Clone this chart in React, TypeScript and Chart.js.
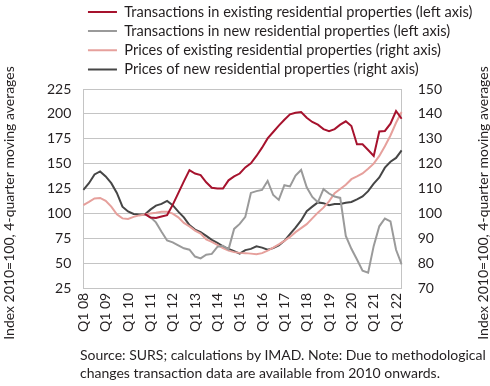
import React, { useEffect, useRef } from 'react';
import { Chart, registerables } from 'chart.js';

Chart.register(...registerables);

const quarters = [
  'Q1 08', 'Q2 08', 'Q3 08', 'Q4 08', 'Q1 09', 'Q2 09', 'Q3 09', 'Q4 09',
  'Q1 10', 'Q2 10', 'Q3 10', 'Q4 10', 'Q1 11', 'Q2 11', 'Q3 11', 'Q4 11',
  'Q1 12', 'Q2 12', 'Q3 12', 'Q4 12', 'Q1 13', 'Q2 13', 'Q3 13', 'Q4 13',
  'Q1 14', 'Q2 14', 'Q3 14', 'Q4 14', 'Q1 15', 'Q2 15', 'Q3 15', 'Q4 15',
  'Q1 16', 'Q2 16', 'Q3 16', 'Q4 16', 'Q1 17', 'Q2 17', 'Q3 17', 'Q4 17',
  'Q1 18', 'Q2 18', 'Q3 18', 'Q4 18', 'Q1 19', 'Q2 19', 'Q3 19', 'Q4 19',
  'Q1 20', 'Q2 20', 'Q3 20', 'Q4 20', 'Q1 21', 'Q2 21', 'Q3 21', 'Q4 21',
  'Q1 22', 'Q2 22',
];

// left axis
const transExisting = [
  null, null, null, null, null, null, null, null, null, null, null, 100,
  96.4, 95.9, 97.4, 98.8, 109, 120.8, 132.6, 143.8, 140.4, 138.9, 131.6, 126.2,
  125.4, 125.4, 133.6, 137.5, 140.4, 146.5, 150.7, 158, 166.3, 175.6, 182, 188.3,
  194.2, 199.6, 201.2, 202, 196.2, 192, 189.3, 184.9, 182.9, 184.9, 189.3, 192.7,
  188, 169.7, 169.7, 163.9, 158, 182.5, 183, 190.3, 203, 195.2,
];

const transNew = [
  null, null, null, null, null, null, null, null, null, null, null, 100,
  96.9, 91.5, 82.2, 73.4, 71.5, 68.5, 65.6, 64.2, 57.3, 55.5, 59.2, 60,
  67, 68, 64.5, 85, 90, 97, 121, 122.8, 124, 133, 118.9, 114,
  128.7, 127.5, 138.4, 144, 126.7, 117, 111.6, 124.8, 120.4, 117.4, 116, 78,
  65.1, 54.3, 43.1, 41.1, 68, 87.6, 95.4, 92.5, 64.1, 49.5,
];

// right axis
const pricesExisting = [
  103.5, 104.8, 106.2, 106.4, 105.2, 102.9, 99.8, 98.2, 98, 98.8, 99.4, 99.8,
  100.2, 100.5, 100.9, 100.9, 100.1, 98.6, 96.4, 95, 93.3, 92.1, 89.8, 88.8,
  87.6, 86.3, 85.3, 84.7, 84.4, 84.3, 84.1, 83.9, 84.3, 85.3, 86.5, 87.8,
  89.2, 90.8, 92.7, 94.3, 95.9, 98.2, 100.5, 102.5, 105, 108.3, 110, 111.7,
  113.9, 115, 116.2, 118.1, 120.1, 123.2, 127.1, 131.4, 136.5, 140.8,
];

const pricesNew = [
  109.6, 112.3, 115.8, 117, 115, 112.3, 108.4, 102.9, 101, 100, 99.8, 99.8,
  101.7, 103.3, 104, 105.2, 103.5, 100.9, 98.6, 95.5, 93.7, 92.7, 91.2, 89.6,
  88.4, 87, 86, 85.1, 84.1, 85.5, 86, 87, 86.5, 85.7, 86.3, 87.4,
  89.2, 91.9, 94.5, 97.4, 101.1, 102.9, 104.6, 104.3, 103.5, 104, 104, 104.5,
  104.8, 105.8, 107, 109.1, 112.1, 114.6, 118.5, 120.9, 122.4, 125.4,
];

const seriesNames = [
  'Transactions in existing residential properties (left axis)',
  'Transactions in new residential properties (left axis)',
  'Prices of existing residential properties (right axis)',
  'Prices of new residential properties (right axis)',
];

const axisTitle = 'Index 2010=100, 4-quarter moving averages';
const footLines = [
  'Source: SURS; calculations by IMAD. Note: Due to methodological',
  'changes transaction data are available from 2010 onwards.',
];

const FONT = 'Lato, "Liberation Sans", sans-serif';
const TEXT = '#231f20';
const GRID = '#c4c4c4';

const legendFix = {
  id: 'legendFix',
  beforeLayout(chart: any) {
    const lg = chart.legend;
    if (lg && !lg._patched) {
      const orig = lg.fit;
      lg.fit = function () {
        orig.call(this);
        this.height = 89;
      };
      lg._patched = true;
    }
  },
  afterLayout(chart: any) {
    const lg = chart.legend;
    if (lg) {
      lg.left = chart.chartArea.left;
      lg.right = chart.width;
      lg.width = lg.right - lg.left;
    }
  },
};

const sideTitles = {
  id: 'sideTitles',
  afterDraw(chart: any) {
    const { ctx } = chart;
    ctx.save();
    ctx.font = `14px ${FONT}`;
    ctx.fillStyle = TEXT;
    ctx.textAlign = 'center';
    ctx.textBaseline = 'middle';
    const cy = 203;
    [9, 483].forEach((x) => {
      ctx.save();
      ctx.translate(x, cy);
      ctx.rotate(-Math.PI / 2);
      ctx.fillText(axisTitle, 0, 0);
      ctx.restore();
    });
    ctx.restore();
  },
};

export default function App() {
  const ref = useRef<HTMLCanvasElement>(null);

  useEffect(() => {
    if (!ref.current) return;
    const mk = (label: string, data: any[], color: string, axis: string) => ({
      label,
      data,
      borderColor: color,
      backgroundColor: color,
      borderWidth: 2,
      pointRadius: 0,
      tension: 0,
      yAxisID: axis,
    });
    const chart = new Chart(ref.current, {
      type: 'line',
      data: {
        labels: quarters,
        datasets: [
          mk(seriesNames[0], transExisting, '#a6122d', 'yL'),
          mk(seriesNames[1], transNew, '#9a9a9a', 'yL'),
          mk(seriesNames[2], pricesExisting, '#e6a09c', 'yR'),
          mk(seriesNames[3], pricesNew, '#464646', 'yR'),
        ],
      },
      options: {
        responsive: false,
        animation: false,
        devicePixelRatio: 1,
        layout: { padding: { left: 35, right: 32, top: 0, bottom: 50 } },
        plugins: {
          tooltip: { enabled: false },
          legend: {
            position: 'top',
            align: 'start',
            labels: {
              usePointStyle: true,
              pointStyle: 'line',
              pointStyleWidth: 29,
              padding: 4.6,
              color: TEXT,
              font: { family: FONT, size: 14.6 },
            },
          },
        },
        scales: {
          x: {
            type: 'category',
            grid: { display: false, drawTicks: false },
            border: { display: true, color: GRID },
            ticks: {
              autoSkip: false,
              minRotation: 90,
              maxRotation: 90,
              padding: 4,
              color: TEXT,
              font: { family: FONT, size: 14 },
              callback: function (this: any, val: any) {
                const l = this.getLabelForValue(val);
                return l.startsWith('Q1') ? l : '';
              },
            },
          },
          yL: {
            position: 'left',
            min: 25,
            max: 225,
            grid: { color: GRID, drawTicks: false },
            border: { display: true, color: GRID },
            ticks: {
              stepSize: 25,
              padding: 12,
              color: TEXT,
              font: { family: FONT, size: 14 },
            },
          },
          yR: {
            position: 'right',
            min: 70,
            max: 150,
            grid: { drawOnChartArea: false, drawTicks: false },
            border: { display: true, color: GRID },
            ticks: {
              stepSize: 10,
              padding: 16,
              color: TEXT,
              font: { family: FONT, size: 14 },
            },
          },
        },
      },
      plugins: [legendFix, sideTitles],
    } as any);
    return () => chart.destroy();
  }, []);

  return (
    <div style={{ position: 'absolute', left: 0, top: 0, width: 490, height: 386, background: '#fff' }}>
      <canvas ref={ref} width={490} height={386} style={{ display: 'block' }} />
      <div
        style={{
          position: 'absolute',
          left: 80,
          top: 346,
          font: `14px ${FONT}`,
          lineHeight: '18px',
          color: TEXT,
          whiteSpace: 'nowrap',
        }}
      >
        {footLines.map((l, i) => (
          <div key={i}>{l}</div>
        ))}
      </div>
    </div>
  );
}
